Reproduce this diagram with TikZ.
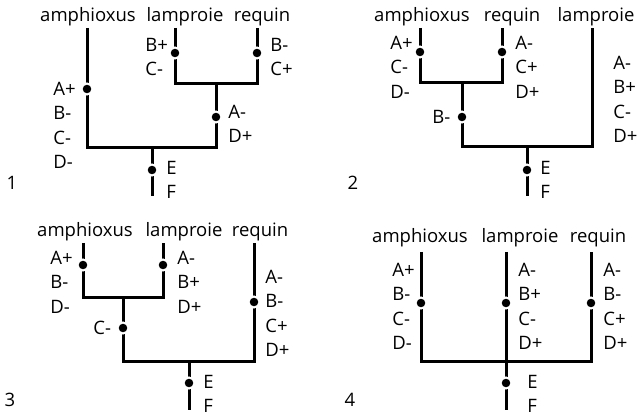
\documentclass[tikz,border=0pt]{standalone}
\usepackage{fontspec}
\setmainfont{Open Sans}
\usepackage{tikz}
\tikzset{
  branch/.style={line width=1.5pt},
  dotmark/.style={circle, fill=black, draw=white, line width=1pt, minimum size=5.5pt, inner sep=0pt},
  taxon/.style={anchor=base, inner sep=0pt},
  lab/.style={anchor=west, inner sep=0pt},
}
\begin{document}
\begin{tikzpicture}[x=0.5pt,y=-0.5pt,font=\fontsize{9.25}{11}\selectfont]
    \useasboundingbox (0,0) rectangle (637,415);
    \def\gap{24.4}
    % --- FIRST TREE (TOP LEFT) ---
    \node[taxon] (p1amph) at (88,22) {amphioxus};
    \node[taxon] (p1lamp) at (185,22) {lamproie};
    \node[taxon] (p1req) at (262,22) {requin};
    \coordinate (p1a) at (87,28);
    \coordinate (p1l) at (175,28);
    \coordinate (p1r) at (257,28);
    \coordinate (p1lr) at (216,84);
    \coordinate (p1root) at (152,148);
    \coordinate (p1base) at (152,196);
    \draw[branch] (p1l) |- (p1lr) -| (p1r);
    \draw[branch] (p1a) |- (p1root) -| (p1lr);
    \draw[branch] (p1root) -- (p1base);
    \node[dotmark] (p1d1) at (87,89) {};
    \node[dotmark] (p1d2) at (175,53) {};
    \node[dotmark] (p1d3) at (257,53) {};
    \node[dotmark] (p1d4) at (216,117) {};
    \node[dotmark] (p1d5) at (152,170) {};
    \foreach \t [count=\i from 0] in {A+,B-,C-,D-}
        \node[lab] (p1aL\i) at (53,89+\gap*\i) {\t};
    \foreach \t [count=\i from 0] in {B+,C-}
        \node[lab] (p1lL\i) at (145,45+\gap*\i) {\t};
    \foreach \t [count=\i from 0] in {B-,C+}
        \node[lab] (p1rL\i) at (270,45+\gap*\i) {\t};
    \foreach \t [count=\i from 0] in {A-,D+}
        \node[lab] (p1sL\i) at (228,112+\gap*\i) {\t};
    \foreach \t [count=\i from 0] in {E,F}
        \node[lab] (p1eL\i) at (166,168+\gap*\i) {\t};
    \node (p1num) at (12,183) {1};

    % --- SECOND TREE (TOP RIGHT) ---
    \node[taxon] (p2amph) at (422,22) {amphioxus};
    \node[taxon] (p2req) at (512,22) {requin};
    \node[taxon] (p2lamp) at (596,22) {lamproie};
    \coordinate (p2a) at (420,28);
    \coordinate (p2r) at (502,28);
    \coordinate (p2l) at (592,28);
    \coordinate (p2ar) at (462,83);
    \coordinate (p2root) at (527,147);
    \coordinate (p2base) at (527,196);
    \draw[branch] (p2a) |- (p2ar) -| (p2r);
    \draw[branch] (p2ar) |- (p2root) -| (p2l);
    \draw[branch] (p2root) -- (p2base);
    \node[dotmark] (p2d1) at (420,52) {};
    \node[dotmark] (p2d2) at (502,52) {};
    \node[dotmark] (p2d3) at (462,117) {};
    \node[dotmark] (p2d4) at (527,170) {};
    \foreach \t [count=\i from 0] in {A+,C-,D-}
        \node[lab] (p2aL\i) at (390,43+\gap*\i) {\t};
    \foreach \t [count=\i from 0] in {A-,C+,D+}
        \node[lab] (p2rL\i) at (515,43+\gap*\i) {\t};
    \node[lab] (p2sL0) at (432,117) {B-};
    \foreach \t [count=\i from 0] in {A-,B+,C-,D+}
        \node[lab] (p2lL\i) at (613,63+\gap*\i) {\t};
    \foreach \t [count=\i from 0] in {E,F}
        \node[lab] (p2eL\i) at (540,168+\gap*\i) {\t};
    \node (p2num) at (353,183) {2};

    % --- THIRD TREE (BOTTOM LEFT) ---
    \node[taxon] (p3amph) at (85,237) {amphioxus};
    \node[taxon] (p3lamp) at (184,237) {lamproie};
    \node[taxon] (p3req) at (260,237) {requin};
    \coordinate (p3a) at (83,243);
    \coordinate (p3l) at (163,243);
    \coordinate (p3r) at (254,243);
    \coordinate (p3al) at (123,298);
    \coordinate (p3root) at (189,362);
    \coordinate (p3base) at (189,410);
    \draw[branch] (p3a) |- (p3al) -| (p3l);
    \draw[branch] (p3al) |- (p3root) -| (p3r);
    \draw[branch] (p3root) -- (p3base);
    \node[dotmark] (p3d1) at (83,265) {};
    \node[dotmark] (p3d2) at (163,265) {};
    \node[dotmark] (p3d3) at (123,328) {};
    \node[dotmark] (p3d4) at (254,302) {};
    \node[dotmark] (p3d5) at (189,383) {};
    \foreach \t [count=\i from 0] in {A+,B-,D-}
        \node[lab] (p3aL\i) at (50,258+\gap*\i) {\t};
    \foreach \t [count=\i from 0] in {A-,B+,D+}
        \node[lab] (p3lL\i) at (177,258+\gap*\i) {\t};
    \node[lab] (p3sL0) at (93,328) {C-};
    \foreach \t [count=\i from 0] in {A-,B-,C+,D+}
        \node[lab] (p3rL\i) at (265,277+\gap*\i) {\t};
    \foreach \t [count=\i from 0] in {E,F}
        \node[lab] (p3eL\i) at (203,382+\gap*\i) {\t};
    \node (p3num) at (10,400) {3};

    % --- FOURTH TREE (BOTTOM RIGHT) ---
    \node[taxon] (p4amph) at (420,243) {amphioxus};
    \node[taxon] (p4lamp) at (520,243) {lamproie};
    \node[taxon] (p4req) at (598,243) {requin};
    \coordinate (p4a) at (421,252);
    \coordinate (p4l) at (506,252);
    \coordinate (p4r) at (591,252);
    \coordinate (p4root) at (506,362);
    \coordinate (p4base) at (506,410);
    \draw[branch] (p4a) |- (p4root) -| (p4r);
    \draw[branch] (p4l) -- (p4base);
    \node[dotmark] (p4d1) at (421,303) {};
    \node[dotmark] (p4d2) at (506,303) {};
    \node[dotmark] (p4d3) at (591,303) {};
    \node[dotmark] (p4d4) at (506,383) {};
    \foreach \t [count=\i from 0] in {A+,B-,C-,D-}
        \node[lab] (p4aL\i) at (392,270+\gap*\i) {\t};
    \foreach \t [count=\i from 0] in {A-,B+,C-,D+}
        \node[lab] (p4lL\i) at (518,270+\gap*\i) {\t};
    \foreach \t [count=\i from 0] in {A-,B-,C+,D+}
        \node[lab] (p4rL\i) at (603,270+\gap*\i) {\t};
    \foreach \t [count=\i from 0] in {E,F}
        \node[lab] (p4eL\i) at (527,382+\gap*\i) {\t};
    \node (p4num) at (350,400) {4};
\end{tikzpicture}
\end{document}
